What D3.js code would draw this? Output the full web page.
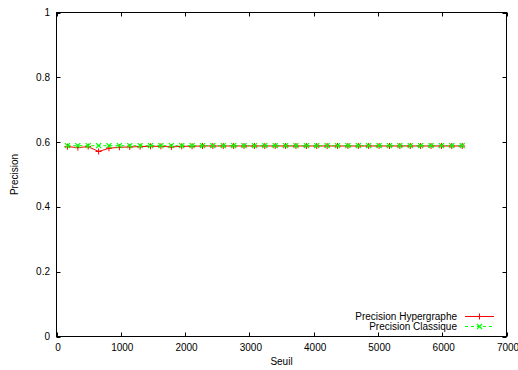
<!DOCTYPE html>
<html><head><meta charset="utf-8">
<script src="https://cdn.jsdelivr.net/npm/d3@7"></script>
<style>
body{margin:0;background:#fff;}
text{font-family:"Liberation Sans",Arial,sans-serif;font-size:10px;fill:#000;}
</style></head>
<body><svg id="c" width="518" height="370"></svg>
<script>
const seuils = [170,332,493,655,816,978,1140,1301,1463,1624,1786,1948,2109,2271,2432,2594,2756,2917,3079,3240,3402,3564,3725,3887,4048,4210,4372,4533,4695,4856,5018,5180,5341,5503,5664,5826,5988,6149,6311];
const hypergraphe = [0.586,0.583,0.586,0.571,0.581,0.584,0.585,0.586,0.587,0.587,0.585,0.587,0.587,0.588,0.588,0.588,0.588,0.588,0.588,0.588,0.588,0.588,0.588,0.588,0.588,0.588,0.588,0.588,0.588,0.588,0.588,0.588,0.588,0.588,0.588,0.588,0.588,0.588,0.588];
const classique = [0.589,0.589,0.589,0.589,0.589,0.589,0.589,0.589,0.589,0.589,0.589,0.589,0.589,0.589,0.589,0.589,0.589,0.589,0.589,0.589,0.589,0.589,0.589,0.589,0.589,0.589,0.589,0.589,0.589,0.589,0.589,0.589,0.589,0.589,0.589,0.589,0.589,0.589,0.589];
const xTicks = [0,1000,2000,3000,4000,5000,6000,7000];
const yTicks = [0,0.2,0.4,0.6,0.8,1];
const seriesNames = ["Precision Hypergraphe","Precision Classique"];

const svg = d3.select("#c");
const L=56.5,R=506.5,T=12.5,B=336.5;
const x = d3.scaleLinear().domain([0,7000]).range([L,R]);
const y = d3.scaleLinear().domain([0,1]).range([B,T]);
const tl=4;

// ticks
const g = svg.append("g").attr("stroke","#000").attr("stroke-width",1);
xTicks.forEach(v=>{
  const px=Math.round(x(v))+0.5;
  g.append("line").attr("x1",px).attr("x2",px).attr("y1",B).attr("y2",B-tl);
  g.append("line").attr("x1",px).attr("x2",px).attr("y1",T).attr("y2",T+tl);
});
yTicks.forEach(v=>{
  const py=Math.round(y(v))+0.5;
  g.append("line").attr("x1",L).attr("x2",L+tl).attr("y1",py).attr("y2",py);
  g.append("line").attr("x1",R).attr("x2",R-tl).attr("y1",py).attr("y2",py);
});
svg.append("rect").attr("x",L).attr("y",T).attr("width",R-L).attr("height",B-T)
  .attr("fill","none").attr("stroke","#000").attr("stroke-width",1);

xTicks.forEach(v=>{
  svg.append("text").attr("x",x(v)+1.5).attr("y",B+14).attr("text-anchor","middle").text(v);
});
yTicks.forEach(v=>{
  svg.append("text").attr("x",L-6.5).attr("y",y(v)+3.5).attr("text-anchor","end").text(v);
});
svg.append("text").attr("x",(L+R)/2).attr("y",365).attr("text-anchor","middle").text("Seuil");
svg.append("text").attr("transform","translate(18,"+((T+B)/2)+") rotate(-90)").attr("text-anchor","middle").text("Precision");

const line = d3.line().x(d=>x(d[0])).y(d=>y(d[1]));
const dH = seuils.map((s,i)=>[s,hypergraphe[i]]);
const dC = seuils.map((s,i)=>[s,classique[i]]);

function plus(sel,cx,cy,s,col){
  sel.append("path").attr("d",`M${cx-s},${cy}H${cx+s}M${cx},${cy-s}V${cy+s}`).attr("stroke",col).attr("stroke-width",1).attr("fill","none");
}
function cross(sel,cx,cy,s,col){
  sel.append("path").attr("d",`M${cx-s},${cy-s}L${cx+s},${cy+s}M${cx-s},${cy+s}L${cx+s},${cy-s}`).attr("stroke",col).attr("stroke-width",1.3).attr("fill","none");
}

svg.append("path").datum(dH).attr("d",line).attr("fill","none").attr("stroke","#ff0000").attr("stroke-width",1);
dH.forEach(d=>plus(svg,x(d[0]),y(d[1]),3,"#ff0000"));
svg.append("path").datum(dC).attr("d",line).attr("fill","none").attr("stroke","#00ff00").attr("stroke-width",1).attr("stroke-dasharray","3,3");
dC.forEach(d=>cross(svg,x(d[0]),y(d[1]),2.5,"#00ff00"));

// legend
const ly=[316.5,326.5];
svg.append("text").attr("x",457).attr("y",ly[0]+3.5).attr("text-anchor","end").text(seriesNames[0]);
svg.append("text").attr("x",457).attr("y",ly[1]+3.5).attr("text-anchor","end").text(seriesNames[1]);
svg.append("line").attr("x1",465).attr("x2",494).attr("y1",ly[0]).attr("y2",ly[0]).attr("stroke","#ff0000");
plus(svg,479.5,ly[0],3,"#ff0000");
svg.append("line").attr("x1",465).attr("x2",494).attr("y1",ly[1]).attr("y2",ly[1]).attr("stroke","#00ff00").attr("stroke-dasharray","3,3");
cross(svg,479.5,ly[1],2.5,"#00ff00");
</script></body></html>
